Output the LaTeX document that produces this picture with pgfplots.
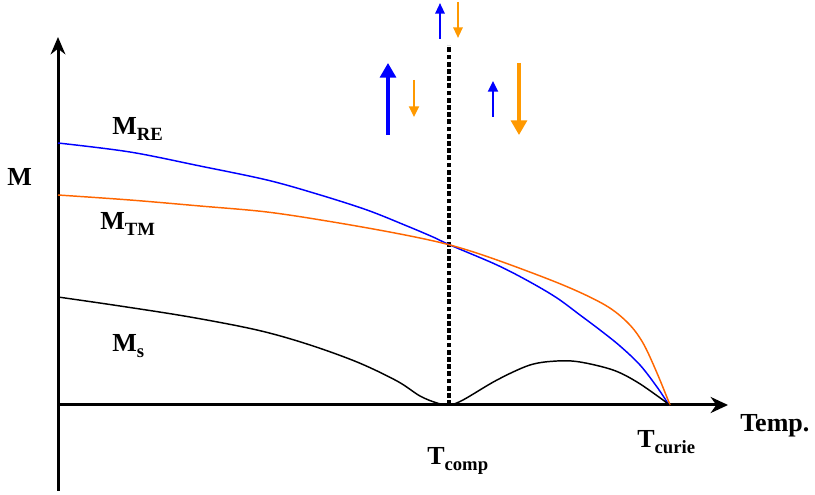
\documentclass[border=0pt]{standalone}
\usepackage{pgfplots}
\pgfplotsset{compat=1.18}
\usepackage{fontspec}
\setmainfont{Liberation Serif}
\usetikzlibrary{arrows.meta}
\definecolor{tmorange}{RGB}{255,102,0}
\definecolor{arrorange}{RGB}{255,153,0}
\newcommand{\lab}[2]{{\fontsize{19.5}{20}\selectfont\bfseries #1\raisebox{-4.5pt}{\fontsize{14}{14}\selectfont #2}}}
\begin{document}
\begin{tikzpicture}[x=0.75pt,y=0.75pt]
\useasboundingbox (0,0) rectangle (611.25pt,371.25pt);
\begin{axis}[
    at={(0,0)}, anchor=south west,
    scale only axis,
    width=611.25pt, height=371.25pt,
    xmin=0, xmax=815, ymin=0, ymax=495,
    y dir=reverse,
    hide axis,
    clip=false,
]
% axes
\draw[line width=2.25pt,-{Stealth[length=13pt,width=12pt]}] (axis cs:58,405) -- (axis cs:728,405);
\draw[line width=2.25pt,-{Stealth[length=13pt,width=11pt]}] (axis cs:58,491) -- (axis cs:58,37);
% dashed line at T_comp
\addplot[black, line width=2.4pt, dash pattern=on 3.6pt off 1.8pt, no markers] coordinates {(449,405) (449,45)};

% M_RE
\addplot[blue, line width=1.1pt, smooth, tension=0.55, no markers] coordinates {
(58,143) (130,152) (200,166) (267,180) (317,194) (367,210) (407,226)
(433,237) (450,245) (497,265) (530,282) (557,298) (580,315) (600,330)
(620,346) (640,365) (657,387) (669,405)
};
% M_TM
\addplot[tmorange, line width=1.1pt, smooth, tension=0.55, no markers] coordinates {
(58,195) (130,200) (200,206) (267,212) (333,222) (400,234) (450,245) (497,260)
(563,285) (605,305) (628,323) (643,343) (657,373) (670,405)
};
% M_s
\addplot[black, line width=1.1pt, smooth, tension=0.55, no markers] coordinates {
(58,297) (120,306) (190,317) (257,330) (307,344) (357,362) (397,381)
(420,396) (437,403) (449,405) (463,400) (497,380) (530,365)
(557,361) (580,362) (613,370) (637,382) (663,400) (669,405)
};

% spin arrows
\draw[blue, line width=1.5pt, -{Triangle[width=7pt,length=8pt]}] (axis cs:440,39) -- (axis cs:440,3);
\draw[arrorange, line width=1.5pt, -{Triangle[width=7pt,length=8pt]}] (axis cs:458,2) -- (axis cs:458,38);
\draw[blue, line width=2.4pt, -{Triangle[width=12pt,length=11pt]}] (axis cs:388,135) -- (axis cs:388,63);
\draw[arrorange, line width=1.5pt, -{Triangle[width=7.5pt,length=8pt]}] (axis cs:414,80) -- (axis cs:414,117);
\draw[blue, line width=1.5pt, -{Triangle[width=7.5pt,length=8pt]}] (axis cs:493,117) -- (axis cs:493,81);
\draw[arrorange, line width=2.4pt, -{Triangle[width=12pt,length=11pt]}] (axis cs:519,63) -- (axis cs:519,135);

% labels
\node[anchor=base west, inner sep=0pt] at (axis cs:7,186) {\lab{M}{}};
\node[anchor=base west, inner sep=0pt] at (axis cs:112,135) {\lab{M}{RE}};
\node[anchor=base west, inner sep=0pt] at (axis cs:100,230) {\lab{M}{TM}};
\node[anchor=base west, inner sep=0pt] at (axis cs:112,352) {\lab{M}{s}};
\node[anchor=base west, inner sep=0pt] at (axis cs:427,465) {\lab{T}{comp}};
\node[anchor=base west, inner sep=0pt] at (axis cs:637,448) {\lab{T}{curie}};
\node[anchor=base west, inner sep=0pt] at (axis cs:740,432) {\lab{Temp.}{}};
\end{axis}
\end{tikzpicture}
\end{document}
